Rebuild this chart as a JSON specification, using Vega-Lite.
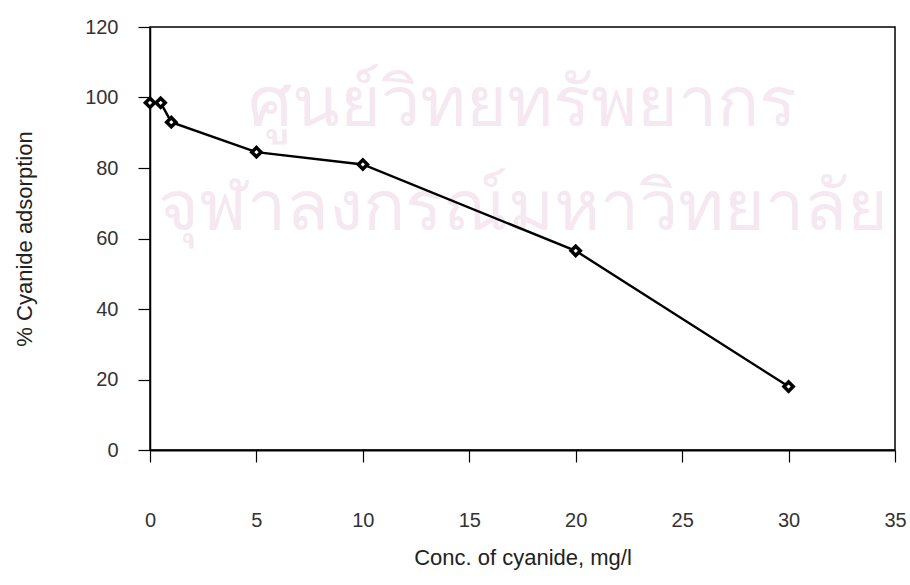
{
  "$schema": "https://vega.github.io/schema/vega-lite/v6.json",
  "autosize": {"type": "none"},
  "padding": {"left": 150, "top": 27, "right": 15, "bottom": 135},
  "width": 745,
  "height": 423,
  "background": "white",
  "config": {
    "view": {"stroke": "black", "strokeWidth": 1.5},
    "font": "Liberation Sans"
  },
  "datasets": {
    "pts": [
      {"conc": 0, "ads": 98.5},
      {"conc": 0.5, "ads": 98.5},
      {"conc": 1, "ads": 93},
      {"conc": 5, "ads": 84.5},
      {"conc": 10, "ads": 81},
      {"conc": 20, "ads": 56.5},
      {"conc": 30, "ads": 18}
    ],
    "wm": [
      {"line": "a", "text": "ศูนย์วิทยทรัพยากร"},
      {"line": "b", "text": "จุฬาลงกรณ์มหาวิทยาลัย"}
    ]
  },
  "layer": [
    {
      "data": {"name": "wm"},
      "mark": {"type": "text", "fontSize": 70, "color": "#f5e8f0", "font": "DejaVu Sans", "baseline": "middle"},
      "encoding": {
        "y": {"field": "line", "type": "nominal", "axis": null, "scale": {"type": "point", "range": [78, 182], "padding": 0}},
        "text": {"field": "text"}
      }
    },
    {
      "data": {"name": "pts"},
      "layer": [
        {
          "mark": {"type": "line", "color": "black", "strokeWidth": 2.4},
          "encoding": {
            "x": {"field": "conc", "type": "quantitative"},
            "y": {"field": "ads", "type": "quantitative"}
          }
        },
        {
          "mark": {"type": "point", "shape": "diamond", "filled": false, "fill": "white", "fillOpacity": 1, "stroke": "black", "strokeWidth": 3.5, "size": 85, "opacity": 1},
          "encoding": {
            "x": {
              "field": "conc", "type": "quantitative",
              "scale": {"domain": [0, 35], "nice": false, "zero": true},
              "axis": {
                "values": [0, 5, 10, 15, 20, 25, 30, 35],
                "title": "Conc. of cyanide, mg/l",
                "grid": false,
                "domainColor": "black", "domainWidth": 2,
                "tickColor": "black", "tickSize": 12, "tickWidth": 1.2,
                "labelFontSize": 20, "labelColor": "#333333", "labelPadding": 48,
                "labelFlush": false,
                "titleFontSize": 22, "titleFontWeight": "normal", "titleColor": "#222222", "titlePadding": 17
              }
            },
            "y": {
              "field": "ads", "type": "quantitative",
              "scale": {"domain": [0, 120], "nice": false},
              "axis": {
                "values": [0, 20, 40, 60, 80, 100, 120],
                "title": "% Cyanide adsorption",
                "grid": false,
                "domainColor": "black", "domainWidth": 1.5,
                "tickColor": "black", "tickSize": 12, "tickWidth": 1.2,
                "labelFontSize": 20, "labelColor": "#333333", "labelPadding": 20,
                "labelFlush": false,
                "titleFontSize": 22, "titleFontWeight": "normal", "titleColor": "#222222", "titlePadding": 48
              }
            }
          }
        }
      ]
    }
  ],
  "resolve": {"scale": {"y": "independent"}}
}
